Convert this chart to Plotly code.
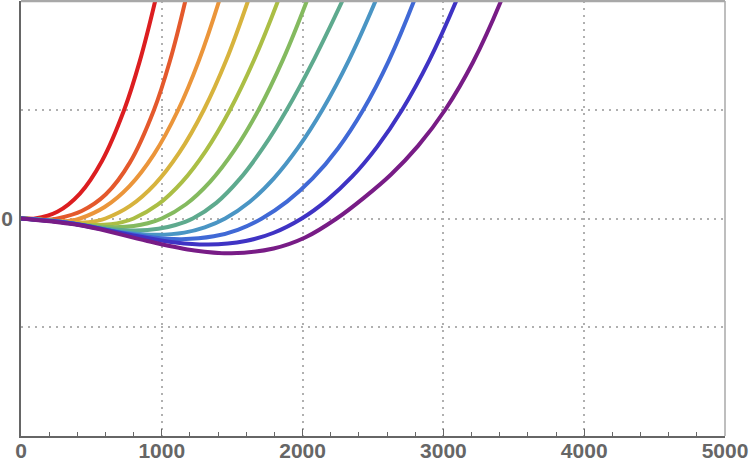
import plotly.graph_objects as go

# ---- data (x in data units, y in data units) ----
x_red = [0, 40, 67, 100, 258, 417, 575, 733, 843, 953, 1019]
y_red = [0, -0.001, -0.002, 0, 0.062, 0.227, 0.529, 1.0, 1.445, 2.0, 2.39]

x_orangered = [0, 52, 104, 143, 173, 208, 234, 260, 431, 603, 774, 945, 1056, 1167, 1234]
y_orangered = [0, -0.002, -0.006, -0.009, -0.01, -0.009, -0.005, 0, 0.069, 0.223, 0.516, 1.0, 1.441, 2.0, 2.40]

x_orange = [0, 84, 168, 231, 280, 336, 378, 420, 594, 769, 943, 1117, 1262, 1407, 1494]
y_orange = [0, -0.005, -0.016, -0.023, -0.025, -0.022, -0.014, 0, 0.106, 0.296, 0.588, 1.0, 1.447, 2.0, 2.387]

x_yellow = [0, 120, 240, 330, 400, 480, 540, 600, 775, 950, 1124, 1299, 1456, 1612, 1706]
y_yellow = [0, -0.009, -0.026, -0.037, -0.04, -0.035, -0.022, 0, 0.116, 0.314, 0.605, 1.0, 1.45, 2.0, 2.381]

x_yellowgreen = [0, 160, 320, 440, 534, 640, 720, 800, 971, 1143, 1314, 1485, 1655, 1825, 1927]
y_yellowgreen = [0, -0.013, -0.039, -0.055, -0.06, -0.052, -0.033, 0, 0.127, 0.335, 0.625, 1.0, 1.457, 2.0, 2.368]

x_green = [0, 200, 400, 550, 667, 800, 900, 1000, 1172, 1344, 1516, 1688, 1859, 2030, 2133]
y_green = [0, -0.017, -0.052, -0.074, -0.08, -0.069, -0.044, 0, 0.131, 0.339, 0.628, 1.0, 1.456, 2.0, 2.37]

x_teal = [0, 244, 488, 671, 814, 976, 1098, 1220, 1387, 1554, 1721, 1888, 2085, 2282, 2400]
y_teal = [0, -0.024, -0.071, -0.101, -0.11, -0.095, -0.060, 0, 0.1435, 0.364, 0.653, 1.0, 1.473, 2.0, 2.336]

x_lightblue = [0, 290, 580, 798, 967, 1160, 1305, 1450, 1623, 1796, 1968, 2141, 2330, 2518, 2631]
y_lightblue = [0, -0.032, -0.097, -0.138, -0.15, -0.130, -0.082, 0, 0.152, 0.369, 0.651, 1.0, 1.459, 2.0, 2.365]

x_blue = [0, 342, 684, 941, 1141, 1369, 1540, 1711, 1891, 2071, 2251, 2431, 2611, 2791, 2899]
y_blue = [0, -0.041, -0.123, -0.175, -0.19, -0.164, -0.104, 0, 0.157, 0.368, 0.644, 1.0, 1.448, 2.0, 2.387]

x_indigo = [0, 399, 798, 1097, 1330, 1595, 1795, 1994, 2172, 2351, 2529, 2707, 2899, 3091, 3206]
y_indigo = [0, -0.052, -0.156, -0.221, -0.24, -0.207, -0.131, 0, 0.167, 0.384, 0.659, 1.0, 1.452, 2.0, 2.379]

x_purple = [0, 448, 897, 1233, 1495, 1794, 2018, 2242, 2435, 2628, 2820, 3013, 3211, 3409, 3528]
y_purple = [0, -0.069, -0.207, -0.294, -0.32, -0.276, -0.175, 0, 0.19, 0.405, 0.668, 1.0, 1.439, 2.0, 2.406]

series_x = [x_red, x_orangered, x_orange, x_yellow, x_yellowgreen, x_green,
            x_teal, x_lightblue, x_blue, x_indigo, x_purple]
series_y = [y_red, y_orangered, y_orange, y_yellow, y_yellowgreen, y_green,
            y_teal, y_lightblue, y_blue, y_indigo, y_purple]
colors = ["#DC1E20", "#E4592C", "#EB953A", "#D7B33D", "#ABBE45", "#84BA5F",
          "#5EAA8E", "#4A95C4", "#4069D6", "#3F33C4", "#781C86"]

x_tickvals = [0, 1000, 2000, 3000, 4000, 5000]
x_ticktext = ["0", "1000", "2000", "3000", "4000", "5000"]
y_tickvals = [-1, 0, 1]
y_ticktext = ["", "0", ""]

fig = go.Figure()
for xs, ys, c in zip(series_x, series_y, colors):
    fig.add_trace(go.Scatter(x=xs, y=ys, mode="lines",
                             line=dict(color=c, width=4, shape="spline", smoothing=1.0),
                             hoverinfo="skip", showlegend=False))

tfont = dict(family="Liberation Sans, Arial, sans-serif", size=21, color="#666666",
             weight="bold")
grid = dict(showgrid=True, gridcolor="#b0b0b0", gridwidth=2, griddash="2px,5px")
fig.update_layout(
    width=750, height=473,
    margin=dict(l=18, r=25, t=1, b=37),
    paper_bgcolor="white", plot_bgcolor="white",
    font=tfont,
    xaxis=dict(range=[0, 5000], tickvals=x_tickvals, ticktext=x_ticktext,
               ticks="inside", ticklen=7, tickwidth=1, tickcolor="#666666",
               minor=dict(dtick=200, ticks="inside", ticklen=4, tickwidth=1,
                          tickcolor="#666666", showgrid=False),
               showline=True, linecolor="#666666", linewidth=1.5,
               zeroline=False, tickfont=tfont, ticklabelstandoff=-5, **grid),
    yaxis=dict(range=[-2, 2], tickvals=y_tickvals, ticktext=y_ticktext,
               ticks="", showline=True, linecolor="#666666", linewidth=1.5,
               zeroline=False, ticklabelstandoff=2, tickfont=tfont, **grid),
)
fig.add_shape(type="line", xref="paper", yref="paper", x0=0, x1=1, y0=1, y1=1,
              line=dict(color="#a8a8a8", width=2.5))
fig.add_shape(type="line", xref="paper", yref="paper", x0=1, x1=1, y0=0, y1=1,
              line=dict(color="#a8a8a8", width=1.5))

fig.write_html("out.html")
